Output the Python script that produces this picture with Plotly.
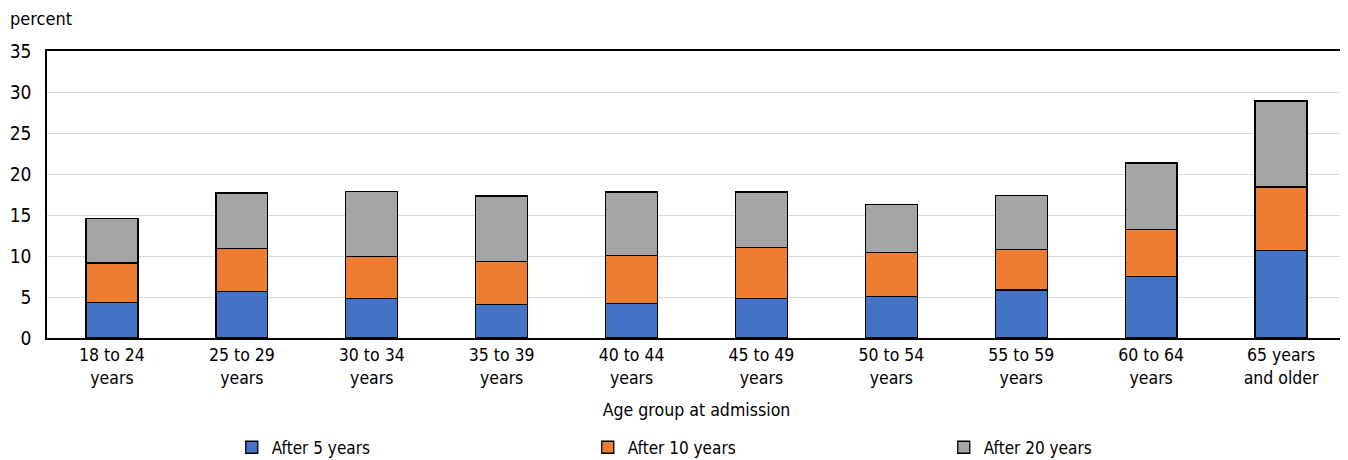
import plotly.graph_objects as go

categories = ["18 to 24<br>years", "25 to 29<br>years", "30 to 34<br>years", "35 to 39<br>years",
              "40 to 44<br>years", "45 to 49<br>years", "50 to 54<br>years", "55 to 59<br>years",
              "60 to 64<br>years", "65 years<br>and older"]
after_5 = [4.35, 5.65, 4.85, 4.1, 4.25, 4.8, 5.1, 5.85, 7.5, 10.7]
after_10 = [4.8, 5.25, 5.1, 5.2, 5.85, 6.2, 5.3, 4.95, 5.7, 7.7]
after_20 = [5.45, 6.8, 7.95, 8.0, 7.7, 6.8, 5.9, 6.6, 8.15, 10.5]
series_names = ["After 5 years", "After 10 years", "After 20 years"]
colors = ["#4472C4", "#ED7D31", "#A5A5A5"]

FONT = "DejaVu Sans Condensed, Roboto Condensed, Liberation Sans Narrow, sans-serif"

fig = go.Figure()
for name, vals, col in zip(series_names, [after_5, after_10, after_20], colors):
    fig.add_trace(go.Bar(x=categories, y=vals, name=name,
                         marker=dict(color=col, line=dict(color="#000000", width=1.3))))

fig.update_layout(
    barmode="stack", bargap=0.6,
    width=1348, height=460,
    margin=dict(l=39, r=10, t=43, b=130, autoexpand=False),
    paper_bgcolor="white", plot_bgcolor="white",
    font=dict(family=FONT, size=17, color="#000000"),
    legend=dict(orientation="h", xref="container", yref="container",
                x=0.166, xanchor="left", y=0.005, yanchor="bottom",
                entrywidth=311, entrywidthmode="pixels", traceorder="normal",
                itemwidth=30, font=dict(size=17)),
    xaxis=dict(title=dict(text="Age group at admission", standoff=17, font=dict(size=17.6)),
               showline=True, linecolor="#000000", linewidth=1.5, mirror=True,
               automargin=False, tickfont=dict(size=17.5)),
    yaxis=dict(range=[0, 35], dtick=5, showgrid=True, gridcolor="#D9D9D9", gridwidth=1.3,
               showline=True, linecolor="#000000", linewidth=1.5, mirror=True, automargin=False,
               ticklabelstandoff=10, zeroline=False, tickfont=dict(size=19)),
    annotations=[dict(text="percent", xref="paper", yref="paper", x=-0.030, y=1.157,
                      xanchor="left", yanchor="top", showarrow=False, font=dict(size=18))],
)

fig.write_html("out.html")
